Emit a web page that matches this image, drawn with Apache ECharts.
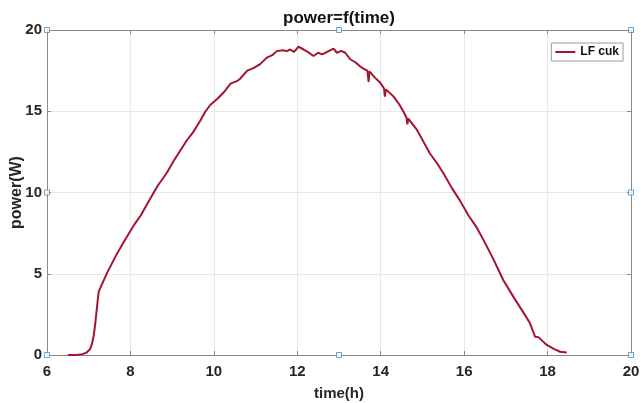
<!DOCTYPE html>
<html>
<head>
<meta charset="utf-8">
<script src="https://cdn.jsdelivr.net/npm/echarts@6/dist/echarts.min.js"></script>
<style>html,body{margin:0;padding:0;background:#fff}#c{width:641px;height:403px}</style>
</head>
<body>
<div id="c"></div>
<script>
var timeH = [6.50,6.70,6.85,6.95,7.03,7.08,7.12,7.16,7.20,7.24,7.28,7.45,7.65,7.85,8.05,8.10,8.25,8.47,8.65,8.87,9.05,9.20,9.35,9.50,9.67,9.80,9.92,10.10,10.25,10.40,10.55,10.63,10.80,10.95,11.11,11.27,11.40,11.51,11.65,11.75,11.83,11.92,12.03,12.15,12.25,12.39,12.50,12.60,12.75,12.87,12.95,13.05,13.15,13.27,13.40,13.51,13.60,13.68,13.71,13.73,13.85,13.99,14.08,14.10,14.12,14.31,14.45,14.55,14.62,14.64,14.66,14.87,15.03,15.18,15.35,15.50,15.70,15.90,16.10,16.30,16.46,16.70,16.94,17.20,17.40,17.58,17.66,17.70,17.78,17.82,17.98,18.15,18.30,18.46];
var powerW = [0,0.0,0.05,0.15,0.35,0.7,1.2,2.0,3.0,3.9,4.15,5.1,6.1,7.0,7.85,8.05,8.6,9.6,10.4,11.2,12.0,12.6,13.2,13.7,14.4,15.0,15.4,15.8,16.2,16.7,16.85,17.0,17.5,17.65,17.9,18.3,18.45,18.7,18.75,18.7,18.8,18.65,18.97,18.8,18.65,18.4,18.6,18.5,18.7,18.85,18.6,18.72,18.6,18.2,18.0,17.75,17.6,17.5,16.8,17.45,17.1,16.75,16.4,15.9,16.35,15.9,15.4,14.95,14.6,14.2,14.55,13.85,13.1,12.4,11.8,11.2,10.3,9.5,8.6,7.85,7.1,5.9,4.6,3.5,2.7,1.95,1.4,1.13,1.1,1.0,0.62,0.38,0.2,0.16];
var handleX = [6,13,20,6,20,6,13,20];
var handleY = [0,0,0,10,10,20,20,20];
var xTicks = [6,8,10,12,14,16,18,20];
var yTicks = [0,5,10,15,20];
var seriesName = 'LF cuk';

var font = 'Liberation Sans, Arial, sans-serif';
var axisGray = '#8a8a8a';
var labelColor = '#262626';
var chart = echarts.init(document.getElementById('c'), null, {renderer:'canvas'});
var lineData = timeH.map(function(t,i){return [t, powerW[i]];});
var handleData = handleX.map(function(x,i){return [x, handleY[i]];});
function baseX(pos, show){
  return {type:'value', position:pos, min:xTicks[0], max:xTicks[xTicks.length-1], interval:xTicks[1]-xTicks[0],
    axisLine:{show:true, onZero:false, lineStyle:{color:axisGray,width:1}},
    axisTick:{show:true, inside:true, length:4, lineStyle:{color:axisGray}},
    axisLabel:{show:show, color:labelColor, fontFamily:font, fontWeight:'bold', fontSize:15, margin:9},
    splitLine:{show:show, lineStyle:{color:'#e8e8e8',width:1}}};
}
function baseY(pos, show){
  return {type:'value', position:pos, min:yTicks[0], max:yTicks[yTicks.length-1], interval:yTicks[1]-yTicks[0],
    axisLine:{show:true, onZero:false, lineStyle:{color:axisGray,width:1}},
    axisTick:{show:true, inside:true, length:4, lineStyle:{color:axisGray}},
    axisLabel:{show:show, color:labelColor, fontFamily:font, fontWeight:'bold', fontSize:15, margin:5},
    splitLine:{show:show, lineStyle:{color:'#e8e8e8',width:1}}};
}
var x0 = baseX('bottom', true);
x0.name = 'time(h)'; x0.nameLocation='middle'; x0.nameGap = 31;
x0.nameTextStyle = {color:labelColor, fontFamily:font, fontWeight:'bold', fontSize:15};
var y0 = baseY('left', true);
y0.name = 'power(W)'; y0.nameLocation='middle'; y0.nameGap = 22; y0.nameMoveOverlap = false;
y0.nameTextStyle = {color:labelColor, fontFamily:font, fontWeight:'bold', fontSize:16};
chart.setOption({
  animation:false,
  backgroundColor:'#fff',
  title:{text:'power=f(time)', left:334, textAlign:'center', top:5,
    textStyle:{color:'#111', fontFamily:font, fontWeight:'bold', fontSize:17}},
  grid:{left:47, right:10, top:30, bottom:48, containLabel:false, outerBoundsMode:'none'},
  legend:{data:[{name:seriesName, icon:'rect'}], right:18, top:43, orient:'vertical',
    itemWidth:20, itemHeight:2, itemGap:4, padding:[3,4,3,4],
    borderColor:'#9a9a9a', borderWidth:1, backgroundColor:'#fff',
    textStyle:{color:'#111', fontFamily:font, fontWeight:'bold', fontSize:12}},
  xAxis:[x0, baseX('top', false)],
  yAxis:[y0, baseY('right', false)],
  series:[
    {name:seriesName, type:'line', xAxisIndex:0, yAxisIndex:0, data:lineData,
     showSymbol:false, symbol:'none', lineStyle:{color:'#A2142F', width:2}, itemStyle:{color:'#A2142F'}},
    {name:'handles', type:'scatter', xAxisIndex:0, yAxisIndex:0, data:handleData,
     symbol:'rect', symbolSize:5, z:10,
     itemStyle:{color:'#fff', borderColor:'#3d8ed6', borderWidth:1}}
  ]
});
</script>
</body>
</html>
